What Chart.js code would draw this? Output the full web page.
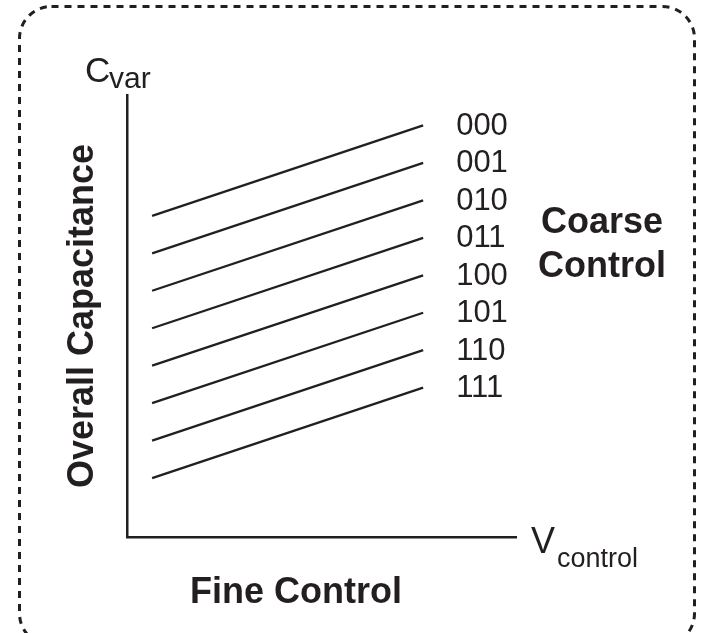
<!DOCTYPE html>
<html>
<head>
<meta charset="utf-8">
<script src="https://cdn.jsdelivr.net/npm/chart.js@4.4.1/dist/chart.umd.min.js"></script>
<style>
  html, body { margin: 0; padding: 0; background: #fff; }
  canvas { display: block; }
</style>
</head>
<body>
<canvas id="chart" width="702" height="633"></canvas>
<script>
/* ─── data ─── */
const coarseCodes = ['000', '001', '010', '011', '100', '101', '110', '111'];
const fineRange = [1, 11.8];                 // V_control at start / end of each line
const capStart = [12.86, 11.36, 9.86, 8.36, 6.86, 5.36, 3.86, 2.36];
const capEnd = [16.48, 14.98, 13.48, 11.98, 10.48, 8.98, 7.48, 5.98];
const xMax = 15.5;
const yMax = 17.7;

const INK = '#231f20';
const FONT = "'Liberation Sans', Arial, Helvetica, sans-serif";

/* ─── dashed rounded frame + text ─── */
const annotations = {
  id: 'annotations',
  beforeDraw(chart) {
    const c = chart.ctx;
    c.save();
    c.fillStyle = '#fff';
    c.fillRect(0, 0, chart.width, chart.height);
    c.strokeStyle = INK;
    c.lineWidth = 3;
    c.setLineDash([7, 6]);
    c.beginPath();
    c.roundRect(19.5, 6.5, 675, 639, 32);
    c.stroke();
    c.restore();
  },
  afterDraw(chart) {
    const c = chart.ctx;
    const xs = chart.scales.x;
    const ys = chart.scales.y;
    const area = chart.chartArea;
    c.save();
    c.fillStyle = INK;

    // coarse code labels at the end of each line
    c.font = `31px ${FONT}`;
    c.textAlign = 'left';
    c.textBaseline = 'middle';
    const lx = xs.getPixelForValue(fineRange[1]) + 33;
    coarseCodes.forEach((code, i) => {
      c.fillText(code, lx, ys.getPixelForValue(capEnd[i]) + 1);
    });

    // Coarse Control
    c.font = `bold 36px ${FONT}`;
    c.textAlign = 'center';
    c.textBaseline = 'alphabetic';
    c.fillText('Coarse', 602, 233);
    c.fillText('Control', 602, 277);

    // Fine Control
    c.fillText('Fine Control', 296, 603);

    // Overall Capacitance (rotated)
    c.save();
    c.translate(93, 316);
    c.rotate(-Math.PI / 2);
    c.fillText('Overall Capacitance', 0, 0);
    c.restore();

    // C_var
    c.textAlign = 'left';
    c.font = `35px ${FONT}`;
    c.fillText('C', 85, 82);
    c.font = `30px ${FONT}`;
    c.fillText('var', 109, 88);

    // V_control
    c.font = `36px ${FONT}`;
    c.fillText('V', area.right + 15, 553);
    c.font = `27px ${FONT}`;
    c.fillText('control', area.right + 41, 567);

    c.restore();
  },
};

const datasets = coarseCodes.map((code, i) => ({
  label: code,
  data: [
    { x: fineRange[0], y: capStart[i] },
    { x: fineRange[1], y: capEnd[i] },
  ],
  borderColor: INK,
  borderWidth: 2.3,
  pointRadius: 0,
  fill: false,
  tension: 0,
}));

new Chart(document.getElementById('chart'), {
  type: 'line',
  data: { datasets },
  options: {
    responsive: false,
    animation: false,
    events: [],
    layout: { padding: { left: 127, right: 186, top: 95, bottom: 96 } },
    plugins: {
      legend: { display: false },
      tooltip: { enabled: false },
    },
    scales: {
      x: {
        type: 'linear',
        min: 0,
        max: xMax,
        grid: { display: false, drawTicks: false },
        ticks: { display: false },
        border: { display: true, color: INK, width: 2.5 },
      },
      y: {
        type: 'linear',
        min: 0,
        max: yMax,
        grid: { display: false, drawTicks: false },
        ticks: { display: false },
        border: { display: true, color: INK, width: 2.5 },
      },
    },
  },
  plugins: [annotations],
});
</script>
</body>
</html>
